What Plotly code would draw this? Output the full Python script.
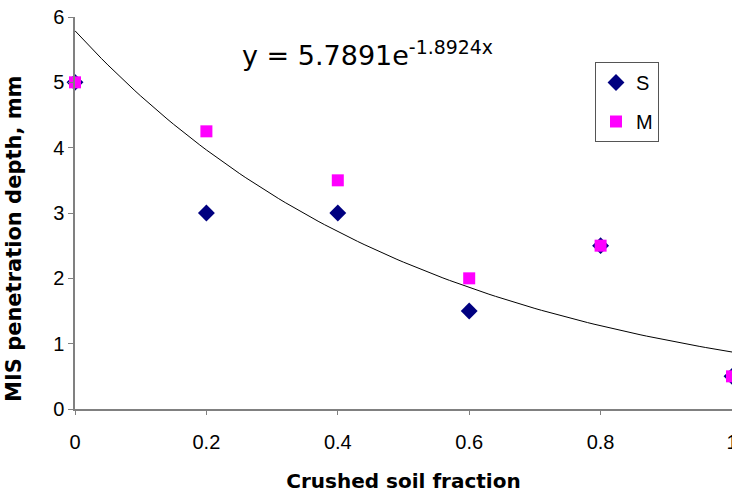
import numpy as np
import plotly.graph_objects as go

x_vals = [0, 0.2, 0.4, 0.6, 0.8, 1.0]
s_vals = [5, 3, 3, 1.5, 2.5, 0.5]
m_vals = [5, 4.25, 3.5, 2, 2.5, 0.5]
fit_a = 5.7891
fit_b = -1.8924
x_ticks = [0, 0.2, 0.4, 0.6, 0.8, 1]
x_tick_text = ["0", "0.2", "0.4", "0.6", "0.8", "1"]
y_ticks = [0, 1, 2, 3, 4, 5, 6]

xf = np.linspace(0, 1, 101)
yf = fit_a * np.exp(fit_b * xf)

L = 75
R = 0
T = 17
B = 86
W, H = 732, 495
pw = W - L - R
ph = H - T - B

fig = go.Figure()
fig.add_trace(go.Scatter(x=xf, y=yf, mode="lines", line=dict(color="black", width=1),
                         showlegend=False, hoverinfo="skip", cliponaxis=False))
fig.add_trace(go.Scatter(x=x_vals, y=s_vals, mode="markers", name="S", legendgroup="S",
                         marker=dict(symbol="diamond", color="#000080", size=13), cliponaxis=False))
fig.add_trace(go.Scatter(x=x_vals, y=m_vals, mode="markers", name="M", legendgroup="M",
                         marker=dict(symbol="square", color="#FF00FF", size=12), cliponaxis=False))

tick_font = dict(family="Liberation Sans, Arial, sans-serif", size=20, color="black")
title_font = dict(family="DejaVu Sans, sans-serif", size=20, color="black")
fig.update_layout(
    width=W, height=H,
    margin=dict(l=L, r=R, t=T, b=B, autoexpand=False),
    plot_bgcolor="white", paper_bgcolor="white",
    font=tick_font,
    showlegend=True,
    legend=dict(x=(595 - L) / pw, y=1 - (62 - T) / ph, xanchor="left", yanchor="top",
                bordercolor="#555555", borderwidth=1,
                font=dict(family="Liberation Sans, Arial, sans-serif", size=20),
                tracegroupgap=10, bgcolor="white"),
    xaxis=dict(range=[0, 1], tickvals=x_ticks, ticktext=x_tick_text, showgrid=False, zeroline=False,
               showline=True, linecolor="#808080", linewidth=1.5, ticks="outside", ticklen=4,
               tickcolor="#808080", tickfont=tick_font, ticklabeloverflow="allow",
               ticklabelstandoff=10, automargin=False,
               title=dict(text="<b>Crushed soil fraction</b>", font=title_font, standoff=22)),
    yaxis=dict(range=[0, 6], tickvals=y_ticks, showgrid=False, zeroline=False,
               showline=True, linecolor="#808080", linewidth=1.5, ticks="outside", ticklen=5,
               tickcolor="#808080", tickfont=tick_font, automargin=False),
    annotations=[
        dict(text="y = 5.7891e<sup>-1.8924x</sup>", x=(240 - L) / pw, y=1 - (53 - T) / ph,
             xref="paper", yref="paper", showarrow=False, xanchor="left", yanchor="middle",
             font=dict(family="DejaVu Sans, sans-serif", size=27)),
        dict(text="<b>MIS penetration depth, mm</b>", textangle=-90,
             x=(14 - L) / pw, y=1 - (239 - T) / ph, xref="paper", yref="paper",
             showarrow=False, xanchor="center", yanchor="middle",
             font=dict(family="DejaVu Sans, sans-serif", size=21, color="black")),
    ],
)

fig.write_html("out.html")
